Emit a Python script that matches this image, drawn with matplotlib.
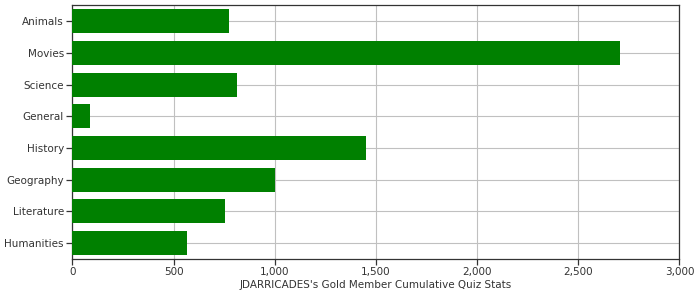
import matplotlib.pyplot as plt
from matplotlib.ticker import FuncFormatter

# 数据：分类和累计数值（从上到下）
categories = ['Animals', 'Movies', 'Science', 'General',
              'History', 'Geography', 'Literature', 'Humanities']
values = [775, 2707, 814, 87, 1452, 1000, 755, 567]

fig = plt.figure(figsize=(7, 3), dpi=100)
ax = fig.add_axes([0.1033, 0.1367, 0.8674, 0.8456])

pos = list(range(len(categories)))
ax.barh(pos, values, height=0.76, color='#008000', zorder=3)

ax.set_yticks(pos)
ax.set_yticklabels(categories)
ax.set_ylim(len(categories) - 0.5, -0.5)  # 第一类在最上面
ax.set_xlim(0, 3000)
ax.set_xticks(range(0, 3001, 500))
ax.xaxis.set_major_formatter(FuncFormatter(lambda v, p: f'{int(v):,}'))

ax.grid(True, color='#c0c0c0', linewidth=0.8, zorder=0)
for s in ax.spines.values():
    s.set_color('#333333')
    s.set_linewidth(0.9)
ax.tick_params(axis='both', colors='#333333', length=4, width=0.9,
               labelsize=7.5, labelcolor='#333333', pad=2)

ax.set_xlabel("JDARRICADES's Gold Member Cumulative Quiz Stats",
              fontsize=7.5, color='#333333', labelpad=2)

fig.savefig('out.png', dpi=100)
